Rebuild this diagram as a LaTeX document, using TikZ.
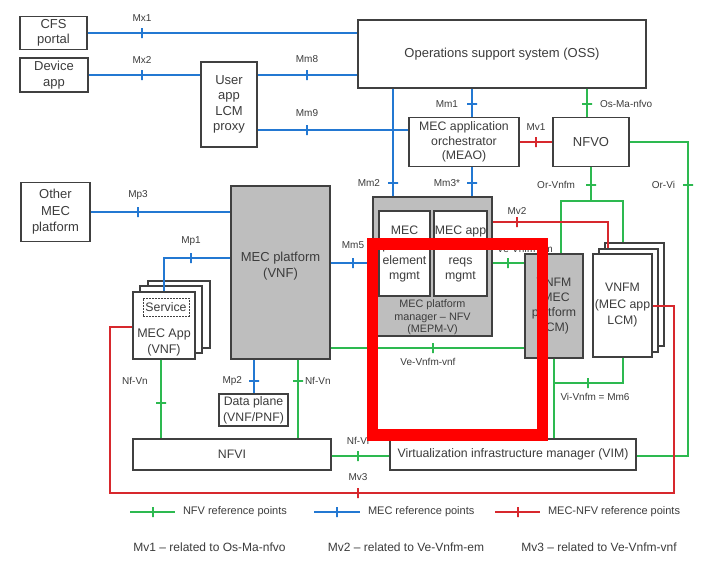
\documentclass[tikz,border=0pt]{standalone}
\usepackage{fontspec}
\setmainfont{Liberation Sans}
\usepackage{tikz}
\usetikzlibrary{positioning}
\definecolor{nfvgreen}{RGB}{45,185,80}
\definecolor{mecblue}{RGB}{35,120,210}
\definecolor{mvred}{RGB}{215,40,45}
\definecolor{annotred}{RGB}{255,0,0}
\definecolor{boxline}{RGB}{64,64,64}
\definecolor{boxgray}{RGB}{190,190,190}
\definecolor{txtgray}{RGB}{60,60,60}
\tikzset{
    box/.style={
        draw=boxline, line width=1.4pt, fill=white, inner sep=1pt,
        align=center, text=txtgray, font=\fontsize{13}{15.5}\selectfont
    },
    smallbox/.style={box, font=\fontsize{12.3}{15}\selectfont},
    graybox/.style={box, fill=boxgray},
    % reference point lines
    nfv/.style={nfvgreen, line width=2pt},
    mec/.style={mecblue, line width=2pt},
    mecnfv/.style={mvred, line width=2pt},
    vtk/.style={draw, inner sep=0pt, outer sep=0pt, minimum width=0pt, minimum height=10pt},
    htk/.style={draw, inner sep=0pt, outer sep=0pt, minimum width=10pt, minimum height=0pt},
    lbl/.style={text=txtgray, font=\fontsize{10}{11}\selectfont, inner sep=1pt},
    lgd/.style={text=txtgray, font=\fontsize{11}{12}\selectfont, inner sep=0pt, anchor=west},
    note/.style={text=txtgray, font=\fontsize{12}{13}\selectfont, inner sep=0pt}
}
\begin{document}
\begin{tikzpicture}[x=1pt, y=-1pt]
    \useasboundingbox[fill=white] (0,0) rectangle (705,563);

    % ========== boxes ==========
    \node[box, minimum width=67, minimum height=33] (cfs) at (53.5,33) {CFS\\portal};
    \node[box, minimum width=68, minimum height=34] (dev) at (54,75) {Device\\app};
    \node[box, minimum width=56, minimum height=85] (proxy) at (229,104.5) {User\\app\\LCM\\proxy};
    \node[box, minimum width=288, minimum height=68] (oss) at (502,54) {Operations support system (OSS)};
    \node[smallbox, minimum width=110, minimum height=49, font=\fontsize{12.3}{14.5}\selectfont] (meao) at (464,142) {MEC application\\orchestrator\\(MEAO)};
    \node[box, minimum width=76, minimum height=49] (nfvo) at (591,142) {NFVO};
    \node[box, minimum width=69, minimum height=59, font=\fontsize{13}{16.5}\selectfont] (other) at (55.5,212) {Other\\MEC\\platform};

    % MEC platform (VNF)
    \node[graybox, minimum width=99, minimum height=173] (mecpf) at (280.5,272.5) {};
    \node[text=txtgray, align=center, font=\fontsize{13}{16}\selectfont] (mecpftxt) at ([yshift=6.5pt]mecpf.center) {MEC platform\\(VNF)};

    % MEPM-V
    \node[graybox, minimum width=119, minimum height=139] (mepm) at (432.5,266.5) {};
    \node[smallbox, minimum width=51, minimum height=85] (pfem) at (404.5,253.5) {MEC\\platform\\element\\mgmt};
    \node[smallbox, minimum width=53, minimum height=85, inner sep=0pt] (arm) at (460.5,253.5) {MEC app\\rules \&\\reqs\\mgmt};
    \node[text=txtgray, align=center, font=\fontsize{10.8}{12.5}\selectfont] (mepmtxt) at (432.5,317.5) {MEC platform\\manager -- NFV\\(MEPM-V)};

    % VNFMs
    \node[graybox, minimum width=58, minimum height=104, font=\fontsize{12.3}{15}\selectfont] (vnfmpf) at (554,306) {VNFM\\(MEC\\platform\\LCM)};
    \node[box, minimum width=59, minimum height=103] (vnfmapp3) at (634.5,294.5) {};
    \node[box, minimum width=59, minimum height=103] (vnfmapp2) at (628.5,300.5) {};
    \node[box, minimum width=59, minimum height=103, font=\fontsize{12.3}{16.5}\selectfont] (vnfmapp) at (622.5,305.5) {VNFM\\(MEC app\\LCM)};

    % MEC App (VNF) stack
    \node[box, minimum width=62, minimum height=67] (app3) at (179,314.5) {};
    \node[box, minimum width=62, minimum height=67] (app2) at (171,319.5) {};
    \node[box, minimum width=62, minimum height=67] (app) at (164,325.5) {};
    \node[draw=boxline, dash pattern=on 2pt off 1pt, line width=0.9pt, minimum width=46, minimum height=18, inner sep=0pt,
          text=txtgray, font=\fontsize{12.3}{14}\selectfont] (svc) at (166,307) {Service};
    \node[text=txtgray, align=center, font=\fontsize{12.5}{16}\selectfont] (apptxt) at (164,342) {MEC App\\(VNF)};

    \node[smallbox, minimum width=69, minimum height=32, inner sep=0pt, font=\fontsize{12.3}{16}\selectfont] (dp) at (253.5,410) {Data plane\\(VNF/PNF)};
    \node[smallbox, minimum width=198, minimum height=31] (nfvi) at (232,454.5) {NFVI};
    \node[smallbox, minimum width=246, minimum height=31] (vim) at (513,454.5) {Virtualization infrastructure manager (VIM)};

    % ========== MEC reference points ==========
    \draw[mec] (cfs.east) -- (142,0 |- cfs.east) node[vtk]{} node[lbl, above=10pt]{Mx1} -- (oss.west |- cfs.east);
    \draw[mec] (dev.east) -- (142,0 |- dev.east) node[vtk]{} node[lbl, above=10pt]{Mx2} -- (proxy.west |- dev.east);
    \draw[mec] (proxy.east |- 0,75) -- (307,75) node[vtk]{} node[lbl, above=10pt]{Mm8} -- (oss.west |- 0,75);
    \draw[mec] (proxy.east |- 0,130) -- (307,130) node[vtk]{} node[lbl, above=11pt]{Mm9} -- (meao.west |- 0,130);
    \draw[mec] (472,0 |- oss.south) -- (472,104) node[htk]{} node[lbl, left=12pt]{Mm1} -- (472,0 |- meao.north);
    \draw[mec] (393,0 |- oss.south) -- (393,183) node[htk]{} node[lbl, left=11pt]{Mm2} -- (393,0 |- mepm.north);
    \draw[mec] (472,0 |- meao.south) -- (472,183) node[htk]{} node[lbl, left=10pt]{Mm3*} -- (472,0 |- mepm.north);
    \draw[mec] (mecpf.east |- 0,263) -- (353,263) node[vtk]{} node[lbl, above=12pt]{Mm5} -- (mepm.west |- 0,263);
    \draw[mec] (other.east) -- (138,0 |- other.east) node[vtk]{} node[lbl, above=10pt]{Mp3} -- (mecpf.west |- other.east);
    \draw[mec] (mecpf.west |- 0,258) -- (191,258) node[vtk]{} node[lbl, above=10pt]{Mp1} -| (app.north);
    \draw[mec] (254,0 |- mecpf.south) -- (254,381) node[htk]{} node[lbl, left=10pt]{Mp2} -- (254,0 |- dp.north);

    % ========== NFV reference points ==========
    \draw[nfv] (587,0 |- oss.south) -- (587,104) node[htk]{} node[lbl, right=11pt]{Os-Ma-nfvo} -- (587,0 |- nfvo.north);
    \draw[nfv] (nfvo.south) -- (591,185) node[htk]{} node[lbl, left=14pt]{Or-Vnfm} -- (591,201) coordinate (orvnfm);
    \draw[nfv] (561,0 |- vnfmpf.north) |- (orvnfm) -| (623,0 |- vnfmapp3.north);
    \draw[nfv] (nfvo.east) -- (688,0 |- nfvo.east) -- (688,185) node[htk]{} node[lbl, left=11pt]{Or-Vi} |- (vim.east |- 0,456);
    \draw[nfv] (mepm.east |- 0,263) -- (508,263) node[vtk]{} -- (vnfmpf.west |- 0,263);
    \node[lbl] (vevnfmem) at (525,249) {Ve-Vnfm-em};
    \draw[nfv] (mecpf.east |- 0,348) -- (433,348) node[vtk]{} node[lbl, below=8pt, xshift=-5pt]{Ve-Vnfm-vnf} -- (vnfmpf.west |- 0,348);
    \draw[nfv] (161,0 |- app.south) -- (161,403) node[htk]{} -- (161,0 |- nfvi.north);
    \node[lbl] (nfvnl) at (135,381) {Nf-Vn};
    \draw[nfv] (298,0 |- mecpf.south) -- (298,381) node[htk]{} node[lbl, right=5pt]{Nf-Vn} -- (298,0 |- nfvi.north);
    \draw[nfv] (nfvi.east |- 0,456) -- (358,456) node[vtk]{} node[lbl, above=10pt]{Nf-Vi} -- (vim.west |- 0,456);
    \draw[nfv] (vnfmpf.south) -- (vnfmpf.south |- vim.north);
    \draw[nfv] (623,0 |- vnfmapp.south) |- (588,383) node[vtk]{} node[lbl, below=8pt, xshift=7pt]{Vi-Vnfm = Mm6} -- (554,383);

    % ========== MEC-NFV reference points ==========
    \draw[mecnfv] (meao.east) -- node[vtk]{} node[lbl, above=10pt]{Mv1} (nfvo.west);
    \draw[mecnfv] (mepm.east |- 0,222) -- (517,222) node[vtk]{} node[lbl, above=6pt]{Mv2} -| (608,0 |- vnfmapp2.north);
    \draw[mecnfv] (vnfmapp.east |- 0,306) -| (674,493) -- (358,493) node[vtk]{} node[lbl, above=10pt]{Mv3} -| (110,327) -- (app.west |- 0,327);

    % ========== legend ==========
    \draw[nfv] (130,512) -- node[vtk]{} (175,512) node[lgd, right=7pt] (lgnfv) {NFV reference points};
    \draw[mec] (314,512) -- node[vtk]{} (360,512) node[lgd, right=7pt] (lgmec) {MEC reference points};
    \draw[mecnfv] (495,512) -- node[vtk]{} (540,512) node[lgd, right=7pt] (lgmv) {MEC-NFV reference points};
    \node[note] (n1) at (209.5,547) {Mv1 -- related to Os-Ma-nfvo};
    \node[note] (n2) at (406,547) {Mv2 -- related to Ve-Vnfm-em};
    \node[note] (n3) at (599,547) {Mv3 -- related to Ve-Vnfm-vnf};

    % red highlight frame
    \draw[annotred, line width=11.5pt] (372.5,244) rectangle (542.5,435);
\end{tikzpicture}
\end{document}
